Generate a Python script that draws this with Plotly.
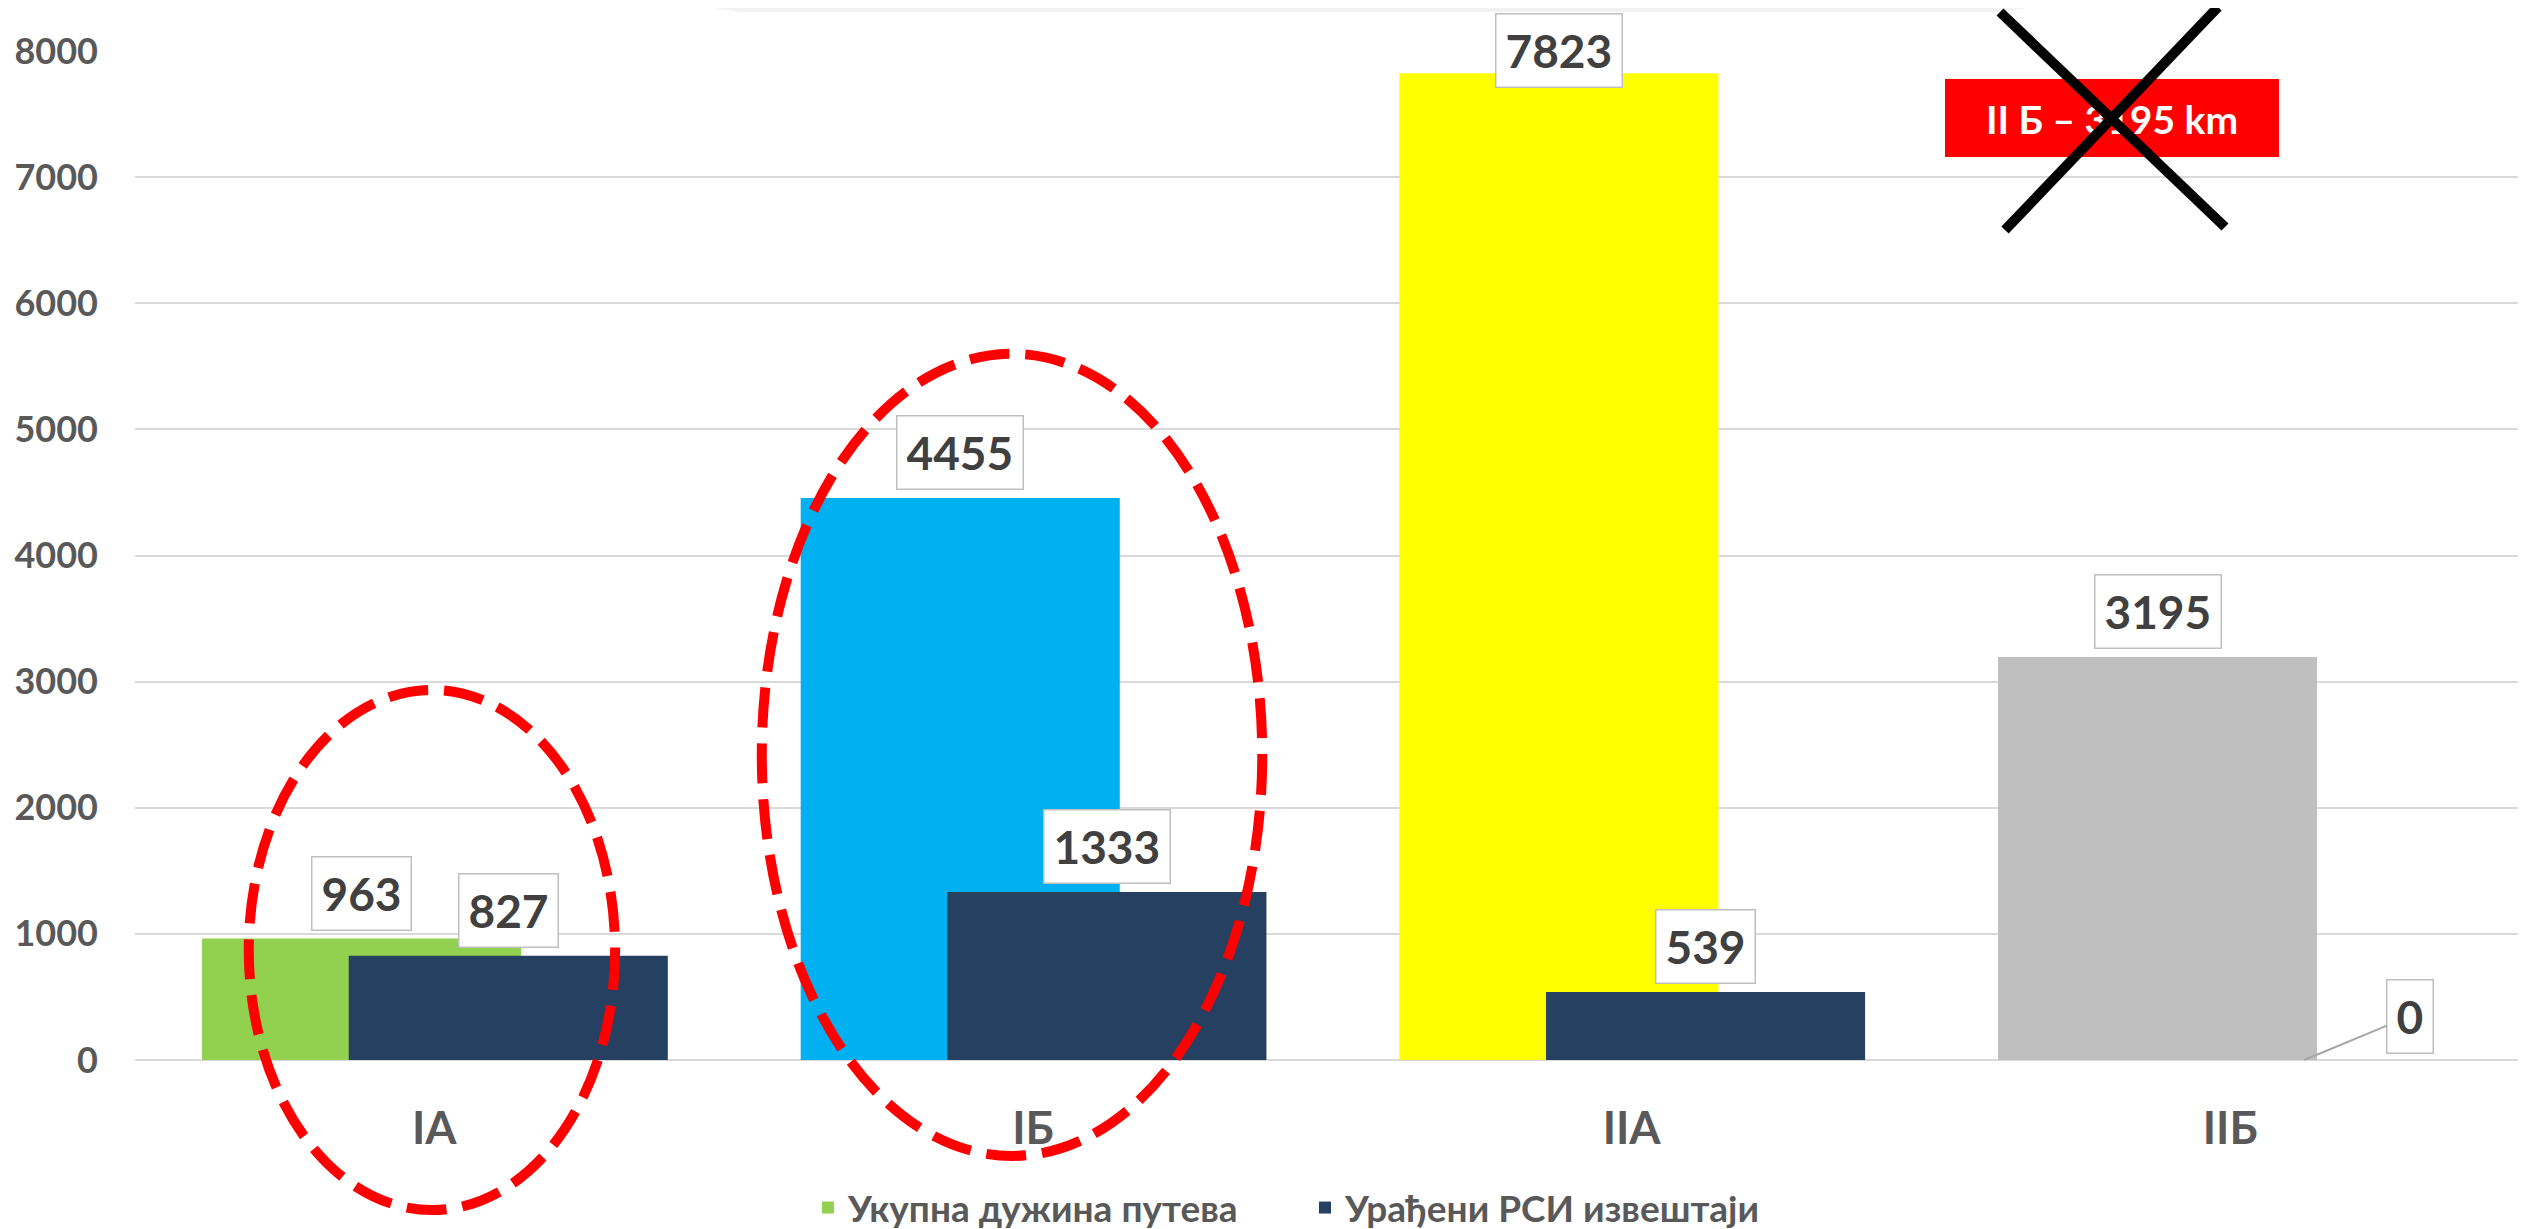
import plotly.graph_objects as go

# ---------------- data ----------------
categories = ["IA", "IБ", "IIA", "IIБ"]
total_length = [963, 4455, 7823, 3195]
rsi_reports = [827, 1333, 539, 0]
series_names = ["Укупна дужина путева", "Урађени РСИ извештаји"]
total_colors = ["#92D050", "#00B0F0", "#FFFF00", "#BFBFBF"]
rsi_color = "#264061"
y_ticks = [0, 1000, 2000, 3000, 4000, 5000, 6000, 7000, 8000]
note_text = "<b>II Б – 3195 km</b>"

# ---------------- layout geometry (page pixels) ----------------
PAGE_W, PAGE_H = 2526, 1229
BODY = 8                      # default html body margin
W, H = PAGE_W - BODY, PAGE_H - BODY
PL, PT = 135, 51              # plot area left / top on the page
PB = 1060                     # plot area bottom on the page
PW = PAGE_W - PL
PH = PB - PT
XR = [-0.5, 3.494]
YR = [0, 8000]

def px_x(px):
    return (px - PL) / PW

def px_y(py):
    return (PB - py) / PH

def dx(x):
    return (x - XR[0]) / (XR[1] - XR[0])

def dy(v):
    return (v - YR[0]) / (YR[1] - YR[0])

BW = 0.533
OFF1 = -0.388
OFF2 = -0.143
FONT = "Lato, 'Open Sans', sans-serif"

fig = go.Figure()
fig.add_trace(go.Bar(
    x=categories, y=total_length, name=series_names[0],
    offset=OFF1, width=BW, legend="legend",
    marker=dict(color=total_colors, line=dict(width=0), opacity=1),
))
fig.add_trace(go.Bar(
    x=categories, y=rsi_reports, name=series_names[1],
    offset=OFF2, width=BW, legend="legend2",
    marker=dict(color=rsi_color, line=dict(width=0), opacity=1),
))

# data labels: boxed, above the bar, kept inside the chart area at the top
BOX_H = 75
TOP_LIMIT = 13
lab_font = dict(family=FONT, size=46, color="#404040", weight="bold")
box = dict(bgcolor="white", bordercolor="#BFBFBF", borderwidth=1.5,
           borderpad=9, height=54, valign="middle")

def label_shift(v):
    bar_top = PB - dy(v) * PH
    top = bar_top - 8 - BOX_H
    return 8 - max(0, TOP_LIMIT - top)

annotations = []
for i, v in enumerate(total_length):
    annotations.append(dict(
        x=i + OFF1 + BW / 2, y=v, xref="x", yref="y", text=str(v),
        showarrow=False, yanchor="bottom", yshift=label_shift(v), font=lab_font, **box,
    ))
for i, v in enumerate(rsi_reports):
    if v == 0:
        annotations.append(dict(
            x=i + OFF2 + BW / 2, y=v, xref="x", yref="y", text=str(v),
            showarrow=True, arrowhead=0, arrowwidth=2, arrowcolor="#A6A6A6",
            ax=106, ay=-44, standoff=0, font=lab_font, **box,
        ))
    else:
        annotations.append(dict(
            x=i + OFF2 + BW / 2, y=v, xref="x", yref="y", text=str(v),
            showarrow=False, yanchor="bottom", yshift=label_shift(v), font=lab_font, **box,
        ))

shapes = []
# faint band at top
shapes.append(dict(
    type="path", xref="paper", yref="paper", layer="below",
    path="M {:.4f},{:.4f} L {:.4f},{:.4f} L {:.4f},{:.4f} L {:.4f},{:.4f} Z".format(
        px_x(660), px_y(0), px_x(2080), px_y(0), px_x(2000), px_y(12), px_x(740), px_y(12)),
    fillcolor="#F2F2F2", line=dict(width=0),
))
# dashed ellipses (category units / value units)
ellipses = [(-0.004, 0.306, 872, 2062), (0.965, 0.418, 2419, 3180)]
for cx, rx, cy, ry in ellipses:
    shapes.append(dict(
        type="circle", xref="paper", yref="paper", layer="above",
        x0=dx(cx - rx), x1=dx(cx + rx), y0=dy(cy - ry), y1=dy(cy + ry),
        line=dict(color="#FF0000", width=10, dash="40px,16px"),
        fillcolor="rgba(0,0,0,0)",
    ))
# red note box
shapes.append(dict(
    type="rect", xref="paper", yref="paper", layer="above",
    x0=px_x(1945), x1=px_x(2279), y0=px_y(157), y1=px_y(79),
    fillcolor="#FF0000", line=dict(width=0),
    label=dict(text=note_text, font=dict(family=FONT, size=39, color="white")),
))
# black cross
shapes.append(dict(type="line", xref="paper", yref="paper", layer="above",
                   x0=px_x(2000), y0=px_y(12), x1=px_x(2225), y1=px_y(227),
                   line=dict(color="black", width=10)))
shapes.append(dict(type="line", xref="paper", yref="paper", layer="above",
                   x0=px_x(2218), y0=px_y(7), x1=px_x(2005), y1=px_y(230),
                   line=dict(color="black", width=10)))

leg_font = dict(family=FONT, size=37, color="#595959", weight="bold")
fig.update_layout(
    template="none",
    width=W, height=H,
    margin=dict(l=PL - BODY, r=0, t=PT - BODY, b=H - (PB - BODY), pad=0, autoexpand=False),
    paper_bgcolor="white", plot_bgcolor="white",
    barmode="overlay",
    font=dict(family=FONT, color="#595959"),
    showlegend=True,
    legend=dict(orientation="h", x=px_x(808), y=px_y(1177), xanchor="left", yanchor="top",
                font=leg_font, bgcolor="rgba(0,0,0,0)"),
    legend2=dict(orientation="h", x=px_x(1305), y=px_y(1177), xanchor="left", yanchor="top",
                 font=leg_font, bgcolor="rgba(0,0,0,0)"),
    annotations=annotations,
    shapes=shapes,
)
fig.update_xaxes(
    range=XR, showgrid=False, showline=False, zeroline=False, automargin=False,
    ticks="", tickfont=dict(family=FONT, size=45, color="#595959", weight="bold"),
    ticklabelstandoff=38,
)
fig.update_yaxes(
    range=YR, tickvals=y_ticks, showgrid=True, gridcolor="#D9D9D9", gridwidth=2,
    zeroline=True, zerolinecolor="#D9D9D9", zerolinewidth=2, showline=False,
    automargin=False,
    ticks="", tickfont=dict(family=FONT, size=36, color="#595959", weight="bold"),
    ticklabelstandoff=36,
)

fig.write_html("out.html")
